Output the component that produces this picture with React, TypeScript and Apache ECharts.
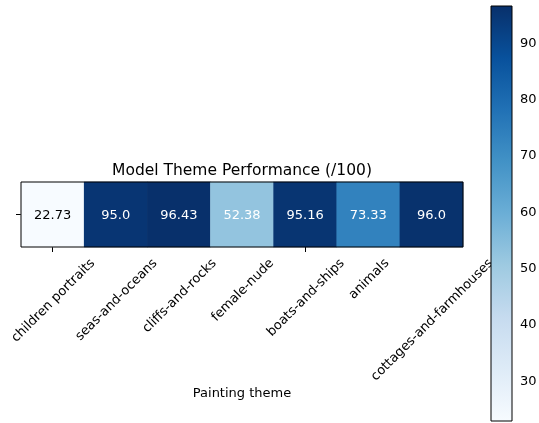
import React, { useEffect, useRef } from "react";
import * as echarts from "echarts";

const themes = [
  "children portraits",
  "seas-and-oceans",
  "cliffs-and-rocks",
  "female-nude",
  "boats-and-ships",
  "animals",
  "cottages-and-farmhouses",
];
const scores = [22.73, 95.0, 96.43, 52.38, 95.16, 73.33, 96.0];
const colorbarTicks = [30, 40, 50, 60, 70, 80, 90];
const blues = ["#f7fbff", "#deebf7", "#c6dbef", "#9ecae1", "#6baed6", "#4292c6", "#2171b5", "#08519c", "#08306b"];

const FONT = "DejaVu Sans";
const LABEL_SIZE = 13;

function measure(text: string): number {
  const ctx = document.createElement("canvas").getContext("2d");
  if (!ctx) return text.length * LABEL_SIZE * 0.55;
  ctx.font = `${LABEL_SIZE}px "${FONT}"`;
  return ctx.measureText(text).width;
}

export default function App() {
  const ref = useRef<HTMLDivElement>(null);
  useEffect(() => {
    if (!ref.current) return;
    const chart = echarts.init(ref.current, null, { renderer: "svg" });
    const cbMin = Math.min(...scores);
    const cbMax = Math.max(...scores);
    const stops = blues
      .slice()
      .reverse()
      .map((c, i) => ({ offset: i / (blues.length - 1), color: c }));
    const fmt = (v: number) => (Number.isInteger(v) ? v.toFixed(1) : String(v));
    const textH = LABEL_SIZE * 1.17;
    const topGap = 8;
    chart.setOption({
      animation: false,
      textStyle: { fontFamily: FONT },
      title: {
        text: "Model Theme Performance (/100)",
        left: 242,
        textAlign: "center",
        top: 162,
        textStyle: { fontFamily: FONT, fontSize: 15.5, fontWeight: "normal", color: "#000" },
        padding: 0,
      },
      grid: [
        { left: 21, top: 182, width: 442, height: 65, show: true, borderColor: "#000", borderWidth: 1, backgroundColor: "transparent", z: 5, outerBoundsMode: "none", containLabel: false },
        { left: 491, top: 6, width: 21, height: 415, outerBoundsMode: "none", containLabel: false },
      ],
      xAxis: [
        {
          type: "category",
          gridIndex: 0,
          data: themes,
          position: "bottom",
          axisLine: { show: false },
          axisTick: { show: true, alignWithLabel: true, length: 5, lineStyle: { color: "#000" } },
          axisLabel: { show: false },
          splitLine: { show: false },
          name: "Painting theme",
          nameLocation: "middle",
          nameGap: 139,
          nameMoveOverlap: false,
          nameTextStyle: { fontSize: 13, color: "#000", fontFamily: FONT },
        },
        { type: "value", gridIndex: 1, min: 0, max: 1, show: false },
      ],
      yAxis: [
        {
          type: "category",
          gridIndex: 0,
          data: [""],
          axisLine: { show: false },
          axisTick: { show: true, alignWithLabel: true, length: 5, lineStyle: { color: "#000" } },
          axisLabel: { show: true },
          splitLine: { show: false },
        },
        {
          type: "value",
          gridIndex: 1,
          min: cbMin,
          max: cbMax,
          position: "right",
          axisLine: { show: false },
          splitLine: { show: false },
          axisTick: { show: true, length: 5, lineStyle: { color: "#000" }, customValues: colorbarTicks },
          axisLabel: { fontSize: 13, color: "#000", fontFamily: FONT, margin: 8, customValues: colorbarTicks },
        },
      ],
      visualMap: {
        show: false,
        seriesIndex: 0,
        dimension: 2,
        min: cbMin,
        max: cbMax,
        inRange: { color: blues },
      },
      series: [
        {
          type: "heatmap",
          xAxisIndex: 0,
          yAxisIndex: 0,
          data: scores.map((v, i) => ({
            value: [i, 0, v],
            label: { color: v < 40 ? "#000" : "#fff" },
          })),
          label: {
            show: true,
            fontSize: 13,
            fontFamily: FONT,
            formatter: (p: any) => fmt(p.value[2]),
          },
          itemStyle: { borderWidth: 0 },
          emphasis: { disabled: true },
        },
        {
          // x tick labels, matplotlib style: rotation=45, ha='center'
          type: "custom",
          xAxisIndex: 0,
          yAxisIndex: 0,
          silent: true,
          clip: false,
          data: themes.map((t, i) => ({ name: t, value: [i, 0] })),
          renderItem: (params: any, api: any) => {
            const text = themes[params.dataIndex];
            const x = api.coord([api.value(0), 0])[0];
            const bottom = params.coordSys.y + params.coordSys.height;
            const L = measure(text);
            const y = bottom + topGap + ((L + textH) * Math.SQRT1_2) / 2;
            return {
              type: "text",
              x,
              y,
              rotation: Math.PI / 4,
              style: {
                text,
                fill: "#000",
                font: `${LABEL_SIZE}px "${FONT}"`,
                align: "center",
                verticalAlign: "middle",
              },
            };
          },
        },
        {
          type: "custom",
          xAxisIndex: 1,
          yAxisIndex: 1,
          data: [[0, cbMin, cbMax]],
          silent: true,
          renderItem: (_p: any, api: any) => {
            const tl = api.coord([0, api.value(2)]);
            const br = api.coord([1, api.value(1)]);
            const shape = { x: tl[0], y: tl[1], width: br[0] - tl[0], height: br[1] - tl[1] };
            return {
              type: "group",
              children: [
                { type: "rect", shape, style: { fill: new echarts.graphic.LinearGradient(0, 0, 0, 1, stops) } },
                { type: "rect", shape, style: { fill: "none", stroke: "#000", lineWidth: 1 } },
              ],
            };
          },
        },
      ],
    });
    return () => chart.dispose();
  }, []);
  return <div ref={ref} style={{ position: "fixed", left: 0, top: 0, width: 539, height: 423 }} />;
}
